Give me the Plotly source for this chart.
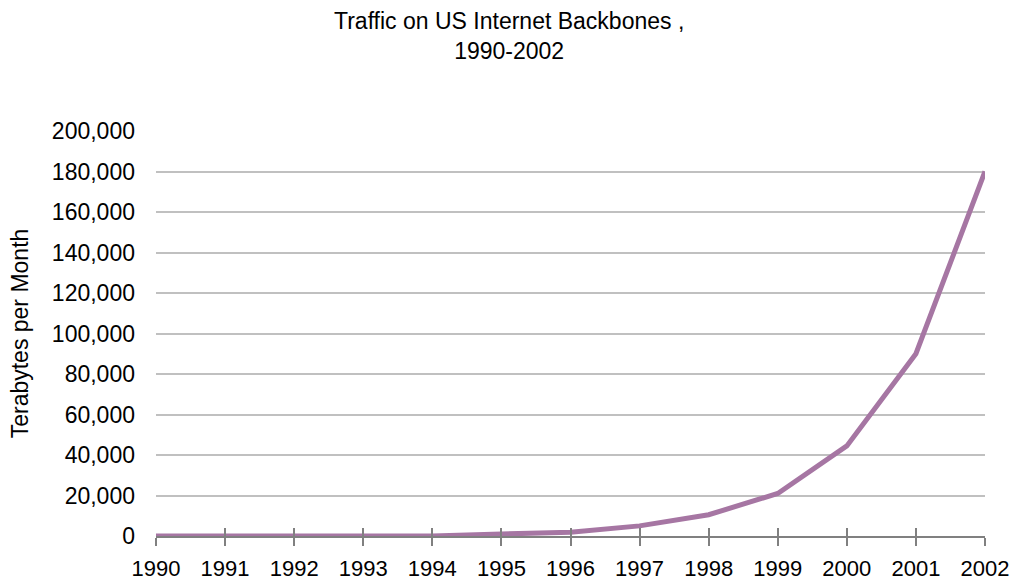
import plotly.graph_objects as go

years = [1990, 1991, 1992, 1993, 1994, 1995, 1996, 1997, 1998, 1999, 2000, 2001, 2002]
traffic_tb = [1, 2, 4, 8, 16, 1000, 1800, 5000, 10500, 21000, 44500, 90000, 180000]
y_ticks = [0, 20000, 40000, 60000, 80000, 100000, 120000, 140000, 160000, 180000, 200000]

FONT = "Liberation Sans, Arial, sans-serif"
TOP, BOTTOM, LEFT, RIGHT = 131, 46, 156, 33
PLOT_H = 582 - TOP - BOTTOM
PLOT_W = 1018 - LEFT - RIGHT

fig = go.Figure()
fig.add_trace(go.Scatter(
    x=years, y=traffic_tb, mode="lines",
    line=dict(color="#A676A3", width=5),
    showlegend=False, hoverinfo="x+y",
))
# invisible trace carrying the overlay axis used for crossing ticks
fig.add_trace(go.Scatter(
    x=years, y=traffic_tb, mode="lines", xaxis="x2",
    line=dict(color="rgba(0,0,0,0)", width=0),
    showlegend=False, hoverinfo="skip",
))

fig.update_layout(
    template="none",
    width=1018, height=582,
    paper_bgcolor="white", plot_bgcolor="white",
    margin=dict(l=LEFT, r=RIGHT, t=TOP, b=BOTTOM, autoexpand=False),
    font=dict(family=FONT, size=23, color="#000000"),
    annotations=[dict(
        text="Traffic on US Internet Backbones ,<br>1990-2002",
        x=(509 - LEFT) / PLOT_W, xref="paper", xanchor="center",
        y=(582 - BOTTOM - 36) / PLOT_H, yref="paper", yanchor="middle",
        showarrow=False, align="center",
        font=dict(family=FONT, size=23, color="#000000"),
    )],
    xaxis=dict(
        range=[1990, 2002], tickmode="array", tickvals=years,
        ticktext=[str(y) for y in years],
        showgrid=False, zeroline=False, automargin=False,
        showline=True, linecolor="#808080", linewidth=1.5,
        ticks="outside", ticklen=8, tickwidth=1.5, tickcolor="#808080",
        ticklabelstandoff=4,
        tickfont=dict(family=FONT, size=22, color="#000000"),
        fixedrange=True,
    ),
    xaxis2=dict(
        overlaying="x", matches="x", anchor="y", side="bottom",
        range=[1990, 2002], tickmode="array", tickvals=years,
        showticklabels=False, showgrid=False, zeroline=False,
        showline=False, automargin=False,
        ticks="inside", ticklen=8, tickwidth=1.5, tickcolor="#808080",
    ),
    yaxis=dict(
        range=[0, 200000], tickmode="array", tickvals=y_ticks,
        tickformat=",d", automargin=False,
        showgrid=True, gridcolor="#C0C0C0", gridwidth=1.5,
        zeroline=False, showline=False, ticks="",
        ticklabelstandoff=20,
        tickfont=dict(family=FONT, size=23, color="#000000"),
        title=dict(text="Terabytes per Month", standoff=16,
                   font=dict(family=FONT, size=23, color="#000000")),
        fixedrange=True,
    ),
)

fig.write_html("out.html")
